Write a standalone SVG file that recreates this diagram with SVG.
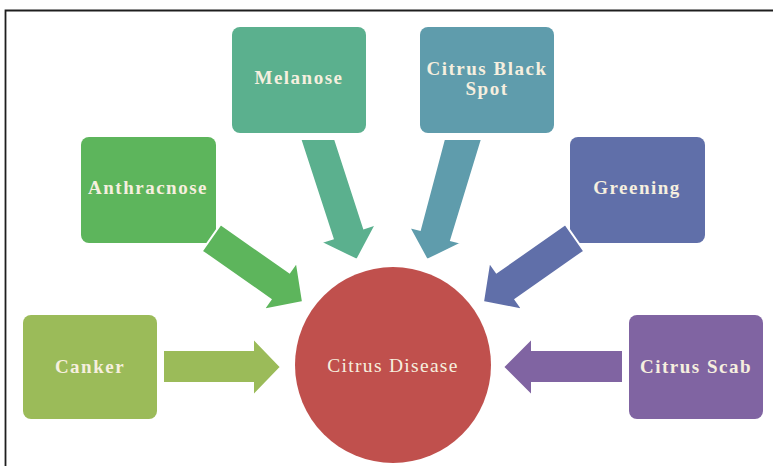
<svg xmlns="http://www.w3.org/2000/svg" width="773" height="466" viewBox="0 0 773 466">
<style>
.box{stroke:none}
.lbl{font-family:"Liberation Serif","Times New Roman",serif;font-weight:bold;font-size:19px;letter-spacing:1.5px;fill:#F6EFDF;text-anchor:middle}
.lblc{font-family:"Liberation Serif","Times New Roman",serif;font-size:19.5px;letter-spacing:1.3px;fill:#F6EFDF;text-anchor:middle}
.arr{stroke:#fff;stroke-width:2;stroke-linejoin:miter}
</style>
<rect x="0" y="0" width="773" height="466" fill="#fff"/>
<path d="M5.5,470 V10.5 H780" fill="none" stroke="#1e1e1e" stroke-width="1.8"/>

<g id="canker">
<rect class="box" x="23" y="315" width="134" height="104" rx="8" fill="#9BBB59"/>
<text class="lbl" x="90" y="373">Canker</text>
</g>
<g id="anthracnose">
<rect class="box" x="81" y="137" width="135" height="106" rx="8" fill="#5DB55C"/>
<text class="lbl" x="148" y="194">Anthracnose</text>
</g>
<g id="melanose">
<rect class="box" x="232" y="27" width="134" height="106" rx="8" fill="#5BB08E"/>
<text class="lbl" x="299" y="84">Melanose</text>
</g>
<g id="black-spot">
<rect class="box" x="420" y="27" width="134" height="106" rx="8" fill="#5F9CAC"/>
<text class="lbl" x="487" y="75">Citrus Black</text>
<text class="lbl" x="487" y="95">Spot</text>
</g>
<g id="greening">
<rect class="box" x="570" y="137" width="135" height="106" rx="8" fill="#606FA9"/>
<text class="lbl" x="637" y="194">Greening</text>
</g>
<g id="scab">
<rect class="box" x="629" y="315" width="134" height="104" rx="8" fill="#8064A2"/>
<text class="lbl" x="696" y="373">Citrus Scab</text>
</g>

<g id="connectors">
<polygon class="arr" fill="#9BBB59" points="163,350 253,350 253,338 281,367 253,396 253,383 163,383"/>
<polygon class="arr" fill="#5DB55C" points="220.7,224.2 289.5,272.4 296.7,262.2 303,302 263.4,309.7 270.6,299.4 201.8,251.2"/>
<polygon class="arr" fill="#5BB08E" points="300.3,139 335,139 364,228.3 375.9,224.4 357,260 320.8,242.3 332.7,238.5"/>
<polygon class="arr" fill="#5F9CAC" points="482,139 444,139 419.9,229.7 409,227 427,260 462,243 451.1,240.3"/>
<polygon class="arr" fill="#606FA9" points="565.3,224.2 496.5,272.4 489.3,262.2 483,302 522.6,309.7 515.4,299.4 584.2,251.2"/>
<polygon class="arr" fill="#8064A2" points="623,350 532,350 532,338 503,367 532,396 532,383 623,383"/>
</g>

<g id="citrus-disease">
<circle cx="393" cy="365" r="98" fill="#C0504D"/>
<text class="lblc" x="393" y="372">Citrus Disease</text>
</g>
</svg>
